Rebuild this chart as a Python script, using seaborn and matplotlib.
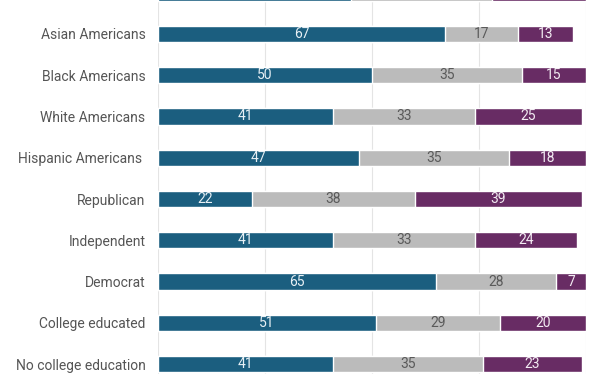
import matplotlib
matplotlib.use("Agg")
import matplotlib.pyplot as plt
import seaborn as sns
import pandas as pd
import numpy as np

# groups, top row is cut off by the top edge of the picture
groups = [
    "All adults",
    "Asian Americans",
    "Black Americans",
    "White Americans",
    "Hispanic Americans ",
    "Republican",
    "Independent",
    "Democrat",
    "College educated",
    "No college education",
]
first = [45, 67, 50, 41, 47, 22, 41, 65, 51, 41]
middle = [33, 17, 35, 33, 35, 38, 33, 28, 29, 35]
last = [22, 13, 15, 25, 18, 39, 24, 7, 20, 23]

BLUE = "#1b5e7f"
GREY = "#bbbbbb"
PURPLE = "#682c64"

df = pd.DataFrame({"group": groups, "a": first, "b": middle, "c": last})
df["ab"] = df["a"] + df["b"]
df["abc"] = df["ab"] + df["c"]

sns.set_style("white")
plt.rcParams["font.family"] = ["Roboto", "DejaVu Sans"]

fig = plt.figure(figsize=(6.12, 3.74), dpi=100)
ax = fig.add_axes([158 / 612, 0, 428 / 612, 1])

bar_w = 0.39
# overdraw cumulative totals to get stacked bars
sns.barplot(data=df, y="group", x="abc", color=PURPLE, orient="h",
            width=bar_w, ax=ax, saturation=1, zorder=2)
sns.barplot(data=df, y="group", x="ab", color=GREY, orient="h",
            width=bar_w, ax=ax, saturation=1, zorder=3)
sns.barplot(data=df, y="group", x="a", color=BLUE, orient="h",
            width=bar_w, ax=ax, saturation=1, zorder=4)

# the top row sits above the picture edge, its numbers are not shown
for i, row in df.iloc[1:].iterrows():
    ax.text(row["a"] / 2, i, str(row["a"]), ha="center", va="center",
            color="#e8f0f5", fontsize=10, zorder=5)
    ax.text(row["a"] + row["b"] / 2, i, str(row["b"]), ha="center",
            va="center", color="#5a5a5a", fontsize=10, zorder=5)
    ax.text(row["ab"] + row["c"] / 2, i, str(row["c"]), ha="center",
            va="center", color="#f3ecf3", fontsize=10, zorder=5)

ax.set_xlim(0, 100)
ax.set_ylim(9.242, 0.176)
ax.set_xticks([0, 25, 50, 75, 100])
ax.xaxis.grid(True, color="#e4e4e4", linewidth=0.8, zorder=0)
ax.set_axisbelow(True)
ax.tick_params(axis="x", bottom=False, labelbottom=False)
ax.tick_params(axis="y", length=0, pad=9, labelsize=10, labelcolor="#555555")
ax.set_xlabel("")
ax.set_ylabel("")
sns.despine(ax=ax, left=True, bottom=True)

fig.savefig("out.png", dpi=100)
